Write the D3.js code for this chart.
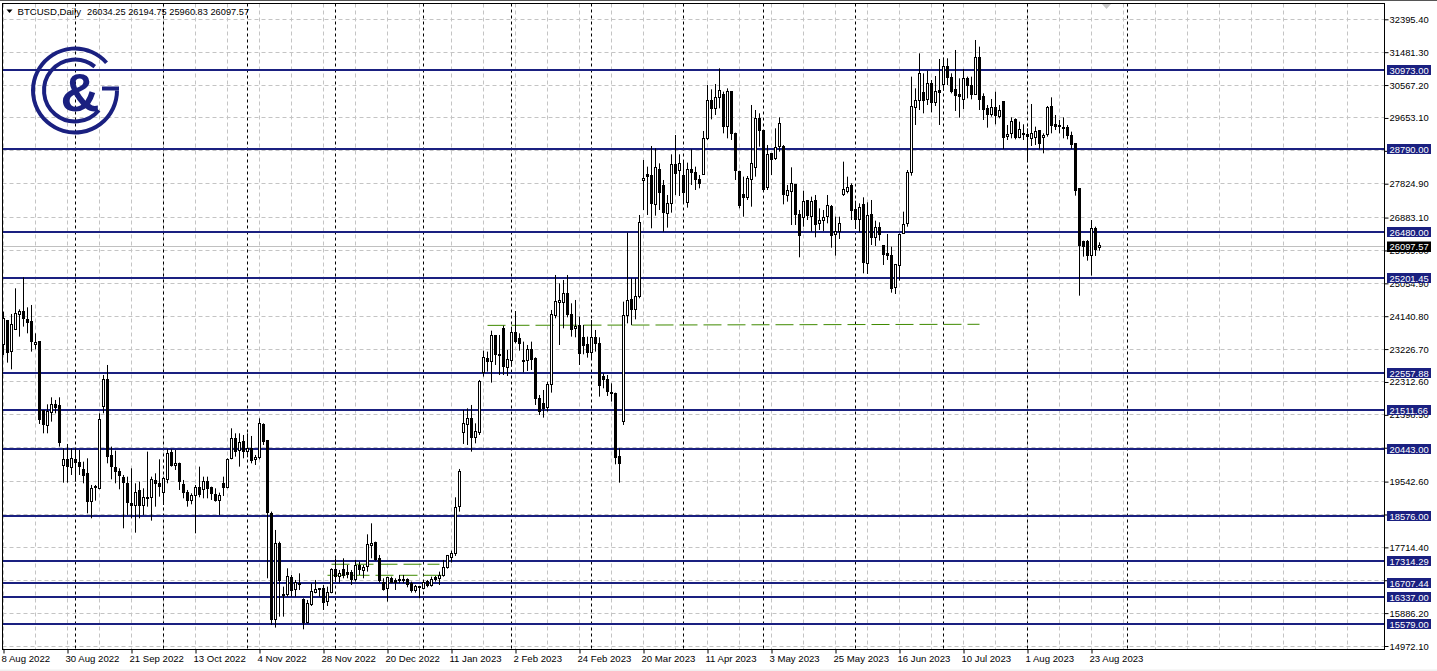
<!DOCTYPE html>
<html><head><meta charset="utf-8">
<script src="https://cdn.jsdelivr.net/npm/d3@7/dist/d3.min.js"></script>
<style>html,body{margin:0;padding:0;background:#fff;overflow:hidden}svg{display:block}text{font-family:"Liberation Sans",Arial,sans-serif}</style>
</head><body><svg id="c" width="1437" height="671"></svg>
<script>
const symbol="BTCUSD,Daily";
const lastQuote=["26034.25","26194.75","25960.83","26097.57"];
const opens=[
23341,24017,23156,23786,24184,24277,24055,23990,23350,23424,
21515,21098,21460,21691,21645,19996,20162,19940,20162,20060,
19884,19755,18985,19375,19356,21627,22386,20255,19940,19829,
19662,19495,18939,18893,19282,18874,19078,19078,19578,19486,
19236,19606,20338,19986,20051,19467,19245,19004,19152,19375,
19328,19541,19365,19189,19022,19495,19384,20190,20746,20394,
20654,20376,20468,20153,20190,21117,20672,18643,15714,17827,
16409,16391,16882,16530,16697,16252,15622,16113,16474,16558,
16576,16206,16456,17086,16900,17104,17012,17012,16808,17197,
17086,17179,17762,17846,17392,16743,16567,16854,16789,16789,
16799,16826,16706,16511,16613,16576,16762,16650,16873,16836,
16928,17151,17438,17549,18828,20904,21135,21302,20765,20904,
22590,22970,22859,23591,23063,23804,22711,22905,23693,23508,
22915,22905,23202,22952,21858,21719,21599,22220,24175,24527,
24518,24759,24175,23795,23869,23554,23359,23137,23554,23387,
22451,22386,22025,21997,20236,21210,24156,24610,24314,24685,
27919,28067,28058,27261,28224,27761,27001,27279,28363,28169,
28039,27307,28224,28141,27946,28085,29096,30143,29920,30226,
30309,29411,30402,29225,28169,27511,27418,27946,28252,29624,
29299,27715,28651,28512,28855,28855,27502,27604,27807,26973,
26890,27344,26908,27344,26723,26797,26890,27186,26390,26492,
27539,27622,27761,27094,26844,27233,25593,26973,26325,26612,
26112,25871,25833,24916,25546,26445,26723,28132,29939,30133,
30365,30170,30615,30087,30421,30569,31079,30791,30448,30310,
30170,30745,30560,30309,31338,30263,29920,29744,29948,29707,
30115,29133,29216,29596,29105,29225,29197,29105,29105,29290,
29105,29197,29976,29475,29429,29392,29374,29170,28929,27678,
26223,26223,25843,26566,26034.25];
const highs=[
24268,24036,24203,24916,24332,25222,24388,24453,23665,23434,
21534,21691,21886,21812,21886,20468,20589,20468,20468,20422,
20097,20190,19449,19449,21441,22507,22785,20515,20403,19912,
19727,19680,19912,19495,19541,19356,20376,19680,19773,20162,
19680,20440,20440,20422,20070,19588,19310,19217,19449,19959,
19680,19680,19402,19356,19236,19680,20190,21024,20885,20885,
20839,20885,20811,20283,21302,21163,20700,18708,18198,17873,
16623,17132,16947,16808,16993,16298,16252,16715,16808,16576,
16669,16623,17132,17410,17086,17410,17225,17086,17364,17318,
17225,18077,18383,17873,17503,16854,16900,16900,16854,16947,
16947,16854,16762,16669,16641,16808,16808,16900,16919,17040,
17364,17503,17623,19106,19894,21534,21580,21673,21163,22368,
23183,23156,23739,23619,23619,23878,23202,23851,24286,23665,
23434,23341,23434,22998,21951,22090,22322,24314,25287,25055,
25148,25287,24499,24592,24129,23897,23573,24036,23758,23554,
22553,22507,22275,22016,20468,24546,26464,25194,25194,26955,
28484,28299,28873,28808,28391,27928,27511,28641,29179,28641,
28484,28410,28780,28299,28067,29290,30569,30449,30597,31032,
30384,30476,30402,29244,28187,28021,28039,30013,29874,29781,
29318,28901,28669,29364,29670,28901,27789,28280,27817,27094,
27631,27372,27465,27511,27140,27094,27511,27233,26908,26908,
28438,28021,27835,27353,27279,27446,27307,27372,26797,26751,
26121,26427,26074,25593,26445,27048,28206,30801,30476,31449,
30893,30967,30708,30819,31292,31329,31310,30893,31542,30754,
31014,30801,30801,31820,31635,30337,30013,30180,30384,30013,
30124,29457,29670,29642,29550,29476,29364,30041,29411,29318,
29225,29985,30226,29735,29596,29670,29457,29272,28947,27696,
26241,26260,26816,26630,26194.75];
const lows=[
23063,22850,22664,23758,23573,23851,23665,23156,23220,21145,
20885,20885,21210,21441,20515,19514,19514,19727,19541,19727,
19495,18661,18522,19013,19328,21441,20051,19606,19495,19328,
18244,18615,18522,18123,18522,18615,18846,18457,18846,19124,
18893,19495,19959,19866,19310,19078,18846,18911,18105,19106,
19078,19078,19032,18985,18615,19143,19356,20162,20237,19959,
20190,20218,20051,20005,20162,20561,16854,15557,15483,15788,
15788,16344,16344,16344,16530,15436,15603,16085,16437,16344,
15974,16085,16437,16762,16734,16854,16854,16669,16762,16947,
16854,17040,17410,17345,16734,16511,16206,16715,16530,16715,
16715,16604,16456,16456,16298,16548,16604,16623,16762,16669,
16900,17123,17290,17475,18708,20589,20561,20375,20607,20839,
22461,22600,22294,22785,22507,22507,22479,22739,23387,23183,
22581,22618,22646,21673,21395,21321,21488,22016,24082,23341,
23804,24110,23573,23554,22785,23081,22989,22924,23156,21905,
22136,21923,21766,20023,19514,21117,23943,23897,24054,24638,
27094,26955,26584,26936,27094,26491,26603,27020,27511,27483,
27279,27159,27789,27650,27696,28067,29040,29614,29735,29920,
29225,29086,29040,27928,27140,26908,27372,27186,28021,28855,
27604,27650,28067,28484,28716,27251,27326,26677,26677,25778,
26630,26816,26492,26334,26538,26510,26723,26047,25824,26288,
27483,27557,26816,26566,26473,25333,25315,26121,26093,26241,
25565,25704,24796,24758,25129,26427,26630,28048,29457,29874,
29781,30013,29809,29985,29457,30411,30569,30337,29846,29661,
29902,30198,30170,30291,29874,29596,29383,29689,29475,29642,
28790,29040,29086,29058,29086,29040,28456,28873,28901,28780,
28669,29133,29225,29318,29225,29086,29058,28790,27492,24712,
25796,25685,25268,25815,25960.83];
const closes=[
24064,23128,23897,24221,24258,24073,23962,23434,23415,21256,
21117,21488,21691,21617,20626,20162,19959,20190,20070,19959,
19727,18967,19356,19393,21275,22386,20237,19940,19829,19708,
19532,18958,18893,19245,18856,19106,19106,19588,19486,19402,
19616,20329,19986,20051,19541,19236,19013,19152,19375,19171,
19541,19347,19199,19022,19162,19375,20162,20746,20376,20626,
20376,20468,20144,20218,21145,20654,18680,15696,17827,16789,
16372,16900,16530,16734,16660,15603,16141,16484,16548,16530,
16187,16465,17104,16900,16993,16947,16947,16808,17197,17086,
17160,17781,17827,17364,16789,16548,16882,16734,16734,16826,
16826,16687,16511,16613,16576,16734,16650,16826,16826,16928,
17160,17475,17549,18828,19810,21145,21302,20765,20932,22331,
22998,22878,23591,23063,23081,22739,22942,23693,23452,23378,
22878,23202,22924,21849,21488,21590,22229,24175,24555,24583,
24777,24175,23758,23860,23091,23341,23128,23554,23387,22210,
22377,22043,21988,20218,20042,24166,24573,24332,24685,26733,
27974,28021,27279,28280,27576,27001,27279,28363,28113,28373,
27557,28224,28132,27946,27826,29086,30143,29920,30226,30421,
29411,30384,29225,28187,27233,27437,27956,28391,29624,29299,
27668,28641,28484,28827,29503,27529,27641,27835,26973,26390,
27335,26936,27335,26686,26797,26890,27205,26390,26482,26723,
27668,27724,27075,26816,27168,25611,26927,26325,26612,26408,
25871,25824,24916,25565,26399,26695,28141,29976,30143,30893,
30133,30615,30087,30393,30356,31079,30782,30411,30272,30245,
30745,30550,30309,31338,30170,29892,29753,29948,29716,29865,
29105,29197,29559,29105,29318,29197,29151,29234,29281,28929,
29170,29957,29457,29429,29392,29355,29160,28929,27631,26102,
26074,25843,26584,25982,26097.57];
const levels=[30973,28790,26480,25201.45,22557.88,21511.66,20443,18576,17314.29,16707.44,16337,15579];
const levelText=["30973.00","28790.00","26480.00","25201.45","22557.88","21511.66","20443.00","18576.00","17314.29","16707.44","16337.00","15579.00"];
const priceTicks=[32395.40,31481.30,30567.20,29653.10,28739.00,27824.90,26883.10,25969.00,25054.90,24140.80,23226.70,22312.60,21398.50,20484.40,19542.60,18628.50,17714.40,16800.30,15886.20,14972.10];
const dateLabels=["8 Aug 2022","30 Aug 2022","21 Sep 2022","13 Oct 2022","4 Nov 2022","28 Nov 2022","20 Dec 2022","11 Jan 2023","2 Feb 2023","24 Feb 2023","20 Mar 2023","11 Apr 2023","3 May 2023","25 May 2023","16 Jun 2023","10 Jul 2023","1 Aug 2023","23 Aug 2023"];
const dateBars=[0,16,32,48,64,80,96,112,128,144,160,176,192,208,224,240,256,272];
const gridBars=d3.range(0,344,8);
const monthBars=[18,40,61,83,105,127,147,170,190,213,235,256,281];
const trendBarsA=[121,244],trendPricesA=[23886,23916];
const trendBarsB=[82,109],trendPricesB=[17245,17245];
const trendBarsC=[81,110],trendPricesC=[16938,16938];

const navy="#1a2080",gridC="#c4c4c4",green="#3f8a00";
const L=2.5,R=1384.5,T=3.5,B=649.5;
const x=d3.scaleLinear().domain([0,274]).range([3.5,1099.5]);
const y=d3.scaleLinear().domain([14972.1,32395.4]).range([646,19.3]);
const px=v=>Math.round(v-0.5)+0.5;
const lineY=v=>Math.round(y(v)-0.4);
const svg=d3.select("#c");
svg.append("rect").attr("width",1437).attr("height",671).attr("fill","#fff");
svg.append("rect").attr("y",669.5).attr("width",1437).attr("height",2).attr("fill","#f0f0f0");
svg.append("rect").attr("width",1437).attr("height",1).attr("fill","#555");

// grid
const g=svg.append("g").attr("fill","none").attr("stroke-width",1);
g.selectAll("line.h").data(priceTicks).join("line").attr("x1",L).attr("x2",R)
 .attr("y1",d=>px(y(d))).attr("y2",d=>px(y(d))).attr("stroke",gridC).attr("stroke-dasharray","4,3");
g.selectAll("line.v").data(gridBars).join("line").attr("y1",T).attr("y2",B)
 .attr("x1",d=>x(d)).attr("x2",d=>x(d)).attr("stroke",gridC).attr("stroke-dasharray","4,3");
g.selectAll("line.m").data(monthBars).join("line").attr("y1",T).attr("y2",B)
 .attr("x1",d=>x(d)).attr("x2",d=>x(d)).attr("stroke","#000").attr("stroke-dasharray","3,3");

// bid line and levels
svg.append("line").attr("x1",L).attr("x2",R).attr("y1",246.5).attr("y2",246.5).attr("stroke","#c0c0c0");
svg.append("g").selectAll("line").data(levels).join("line").attr("x1",L).attr("x2",R)
 .attr("y1",lineY).attr("y2",lineY).attr("stroke",navy).attr("stroke-width",2);

// trend lines
[[trendBarsA,trendPricesA],[trendBarsB,trendPricesB],[trendBarsC,trendPricesC]].forEach(([b,p])=>{
 svg.append("line").attr("x1",x(b[0])).attr("x2",x(b[1])).attr("y1",y(p[0])).attr("y2",y(p[1]))
  .attr("stroke",green).attr("stroke-width",1).attr("stroke-dasharray","18,6");
});

// logo
const logo=svg.append("g").attr("fill","none").attr("stroke",navy).attr("stroke-width",4);
const arc=(r,a0,a1)=>d3.arc()({innerRadius:r,outerRadius:r,startAngle:a0,endAngle:a1});
logo.append("path").attr("transform","translate(75,90.5)").attr("d",arc(42,-Math.PI*1.5+0.0,Math.PI*0.27).replace(/Z$/,""));
logo.append("path").attr("d","M119 88.5H102");
logo.append("path").attr("transform","translate(75,90.5)").attr("d",arc(31,-Math.PI*1.28,Math.PI*0.22).replace(/Z$/,""));
svg.append("text").attr("x",80).attr("y",111).attr("text-anchor","middle").attr("font-size",54).attr("font-weight","bold").attr("fill",navy).text("&");

// candles
const candles=svg.append("g");
const idx=d3.range(opens.length);
candles.selectAll("line").data(idx).join("line").attr("x1",i=>x(i)).attr("x2",i=>x(i))
 .attr("y1",i=>y(highs[i])).attr("y2",i=>y(lows[i])).attr("stroke","#000");
candles.selectAll("rect").data(idx).join("rect")
 .attr("x",i=>x(i)-1).attr("width",2)
 .attr("y",i=>px(y(Math.max(opens[i],closes[i]))))
 .attr("height",i=>Math.max(1,Math.round(Math.abs(y(opens[i])-y(closes[i])))))
 .attr("fill",i=>closes[i]>opens[i]?"#fff":"#000").attr("stroke","#000");

// frame
svg.append("rect").attr("x",L).attr("y",T).attr("width",R-L).attr("height",B-T).attr("fill","none").attr("stroke","#000");
svg.append("path").attr("d",d3.line()([[1102,4],[1111,4],[1106.5,9]])+"Z").attr("fill","#c8c8c8");

// axes
const yAxis=d3.axisRight(y).tickValues(priceTicks).tickSize(4).tickPadding(1).tickFormat(d3.format(".2f"));
const ya=svg.append("g").attr("transform",`translate(${R},0)`).call(yAxis);
ya.select(".domain").remove();
ya.selectAll("text").attr("font-size",9.4).attr("font-family","Liberation Sans").attr("fill","#000");
ya.selectAll("line").attr("stroke","#000");
const xAxis=d3.axisBottom(x).tickValues(dateBars).tickSize(4).tickPadding(2).tickFormat((d,i)=>dateLabels[i]);
const xa=svg.append("g").attr("transform",`translate(0,${B})`).call(xAxis);
xa.select(".domain").remove();
xa.selectAll("text").attr("font-size",9.6).attr("font-family","Liberation Sans").attr("fill","#000").attr("text-anchor","start").attr("dx",-2.5);
xa.selectAll("line").attr("stroke","#000");

// level tags
const tags=svg.append("g").selectAll("g").data(levels).join("g").attr("transform",d=>`translate(0,${lineY(d)})`);
tags.append("rect").attr("x",1387).attr("y",-5).attr("width",44).attr("height",10).attr("fill",navy);
tags.append("text").attr("x",1389.5).attr("y",3.5).attr("font-size",9.4).attr("fill","#fff").text((d,i)=>levelText[i]);
svg.append("rect").attr("x",1387).attr("y",241.5).attr("width",44).attr("height",10.5).attr("fill","#000");
svg.append("text").attr("x",1389.5).attr("y",250).attr("font-size",9.4).attr("fill","#fff").text(lastQuote[3]);

// title
svg.append("path").attr("d",d3.line()([[6.5,9.5],[12.5,9.5],[9.5,13]])+"Z").attr("fill","#000");
svg.append("text").attr("x",17.5).attr("y",15).attr("font-size",9.6).attr("fill","#000").text(symbol);
svg.append("text").attr("x",87).attr("y",15).attr("font-size",9.25).attr("fill","#000").text(lastQuote.join(" "));
</script></body></html>
